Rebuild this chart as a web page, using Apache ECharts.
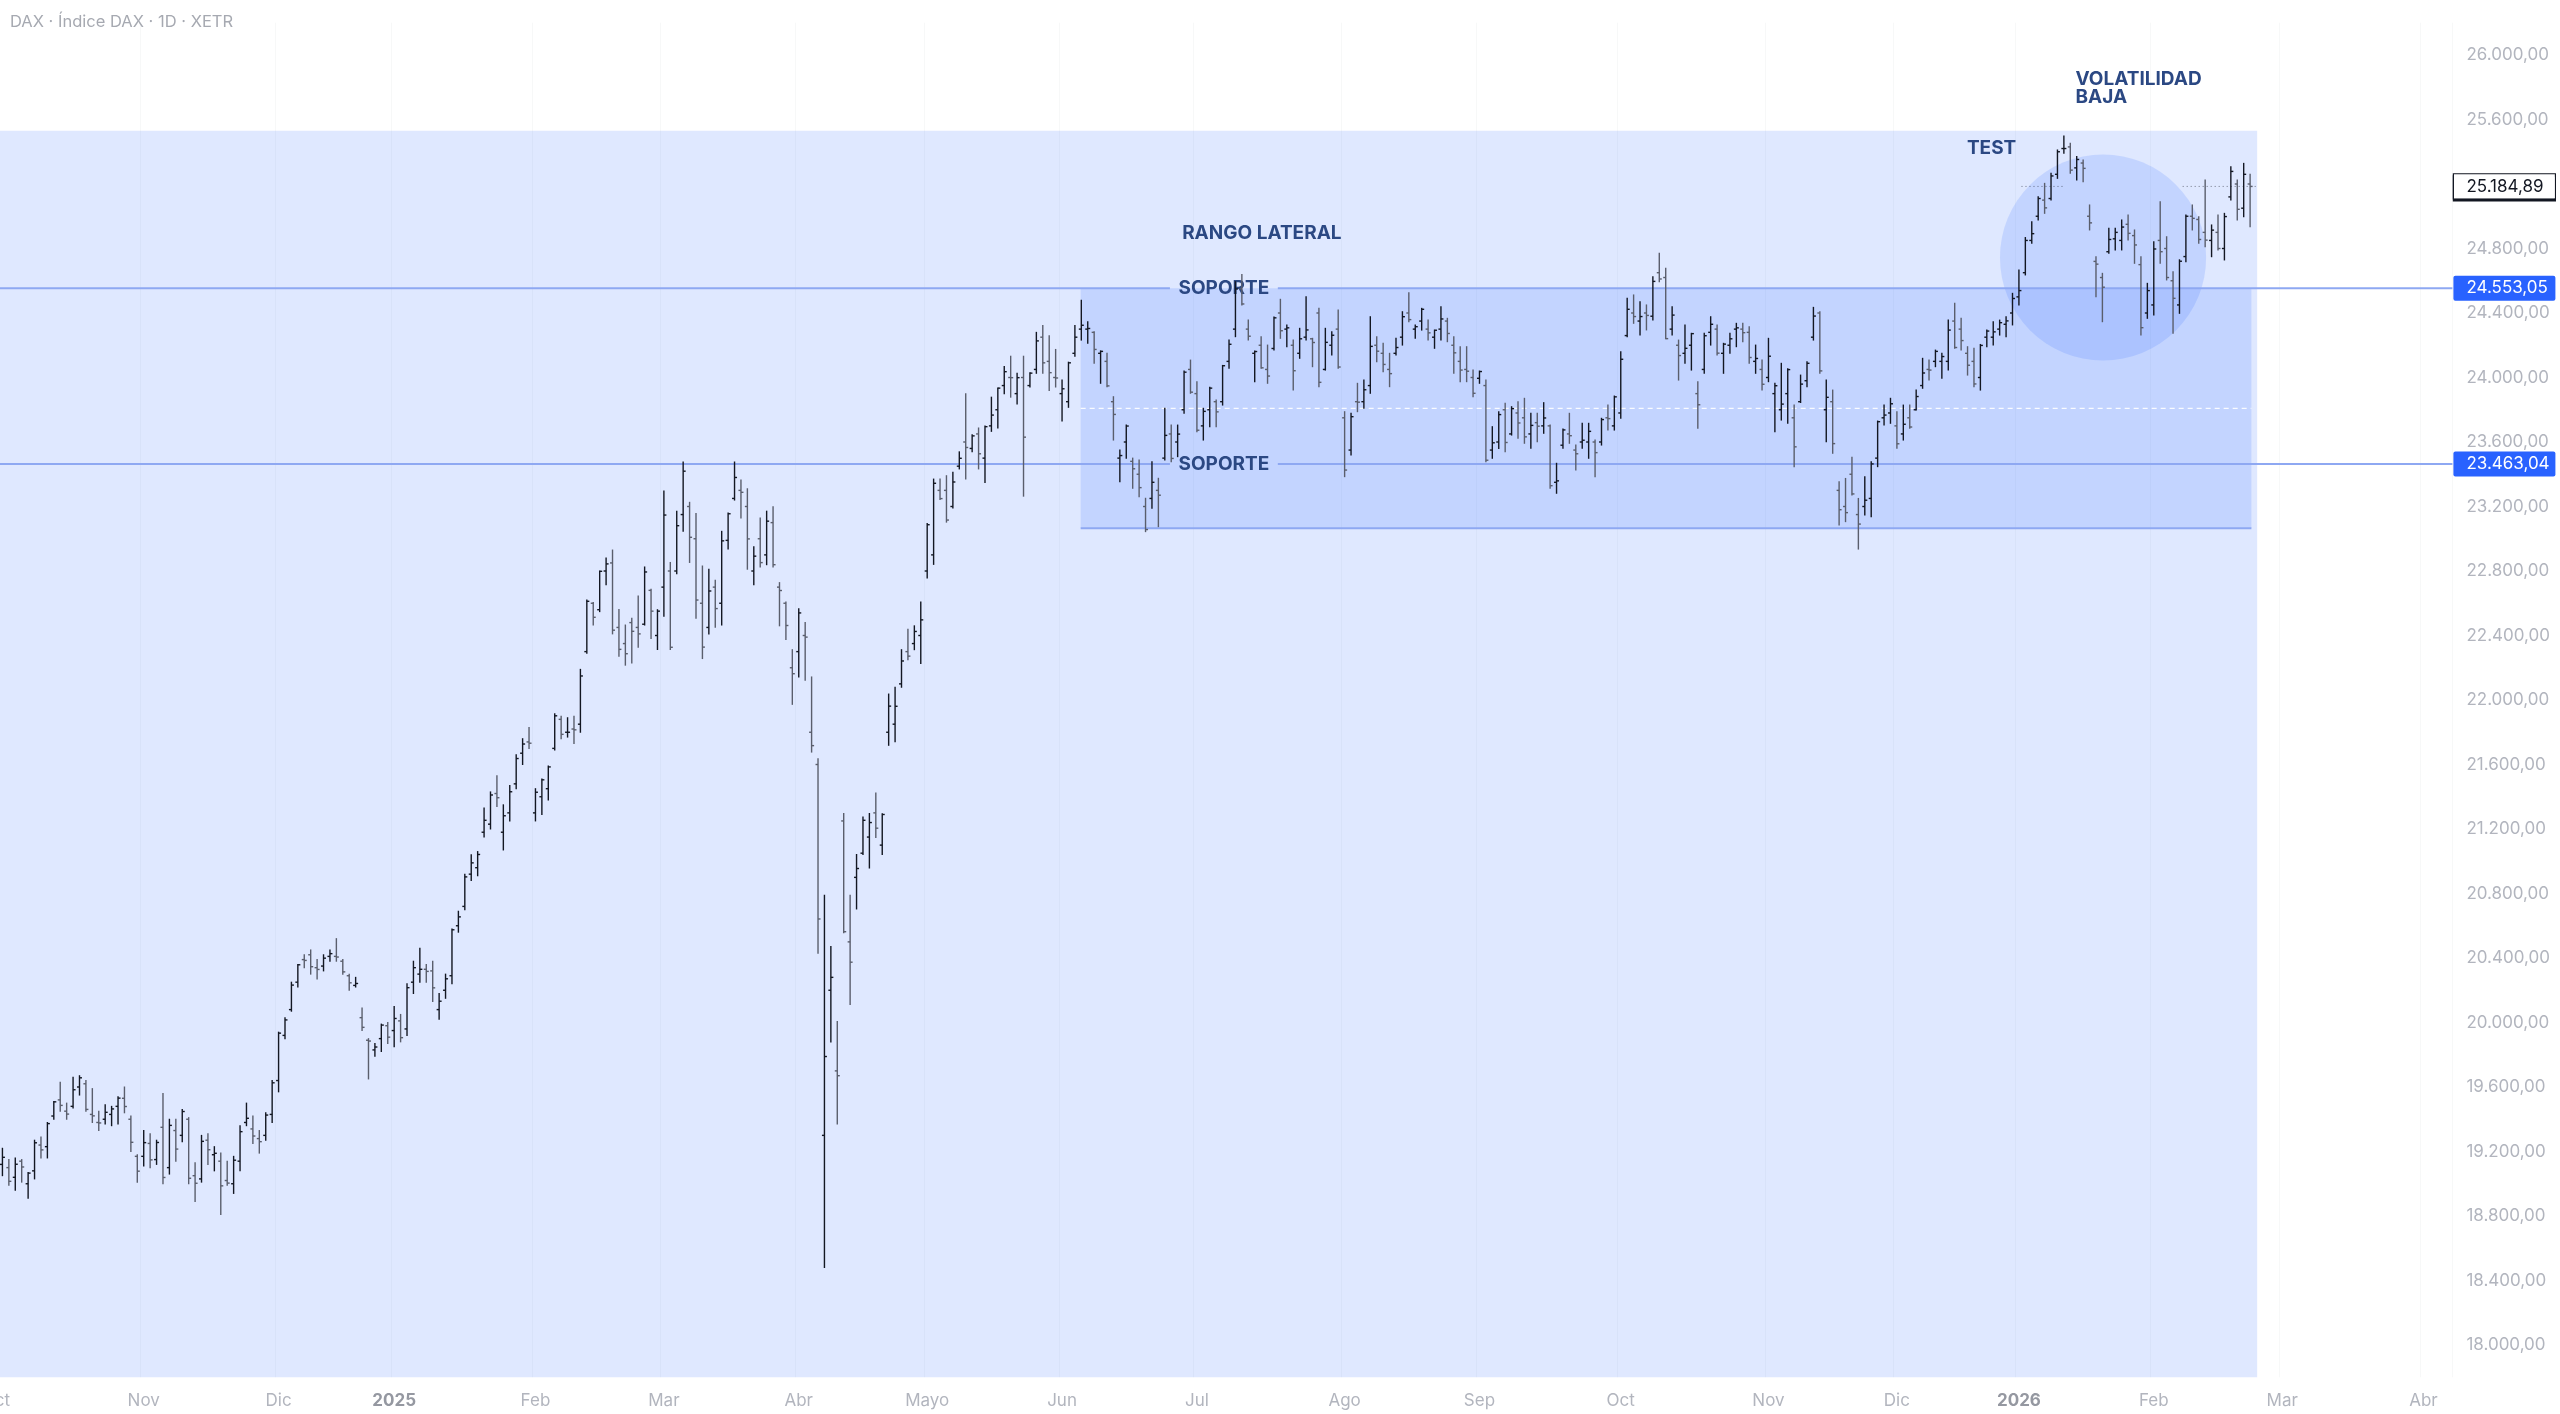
<!DOCTYPE html>
<html>
<head>
<meta charset="utf-8">
<script src="https://cdn.jsdelivr.net/npm/echarts@6/dist/echarts.min.js"></script>
<style>
  html, body { margin: 0; padding: 0; background: #fff; }
  #chart { width: 2560px; height: 1414px; }
</style>
</head>
<body>
<div id="chart"></div>
<script>
var FONT = 'Inter, Roboto, "Noto Sans", sans-serif';

// time scale: label of each month and its number of trading days
var monthLabels = ['Oct', 'Nov', 'Dic', '2025', 'Feb', 'Mar', 'Abr', 'Mayo', 'Jun', 'Jul', 'Ago', 'Sep', 'Oct', 'Nov', 'Dic', '2026', 'Feb', 'Mar', 'Abr'];
var monthDays = [23, 21, 18, 22, 20, 21, 20, 21, 21, 23, 21, 22, 23, 20, 19, 21, 20, 22, 5];

// daily bars [open, high, low, close]
var oct24 = [
  [19330,19360,19165,19213],[19120,19220,19050,19164],[19100,19150,18990,19015],[19040,19160,18960,19121],
  [19140,19150,19010,19104],[19000,19070,18910,19066],[19080,19270,19030,19254],[19240,19290,19160,19210],
  [19230,19380,19160,19373],[19420,19510,19400,19508],[19520,19630,19450,19486],[19450,19500,19400,19432],
  [19480,19660,19470,19583],[19600,19670,19550,19657],[19620,19640,19450,19461],[19430,19590,19380,19421],
  [19380,19450,19330,19377],[19400,19490,19370,19443],[19430,19480,19360,19464],[19480,19540,19370,19531],
  [19530,19600,19440,19479],[19400,19420,19200,19257],[19170,19180,19010,19078]
];
var nov24 = [
  [19170,19330,19110,19255],[19250,19310,19100,19148],[19150,19270,19120,19256],[19350,19560,19000,19039],
  [19100,19400,19060,19362],[19330,19400,19140,19215],[19300,19460,19260,19448],[19400,19410,19000,19034],
  [19050,19130,18890,19003],[19030,19300,19010,19263],[19270,19310,19120,19211],[19180,19230,19080,19189],
  [19140,19190,18810,18987],[19020,19140,18990,19004],[19000,19170,18940,19146],[19140,19360,19080,19323],
  [19380,19500,19360,19406],[19340,19420,19250,19296],[19280,19330,19190,19261],[19300,19440,19270,19426],
  [19430,19640,19380,19626]
];
var dec24 = [
  [19640,19940,19570,19934],[19920,20030,19900,20016],[20080,20250,20070,20232],[20250,20360,20220,20358],
  [20390,20420,20340,20385],[20420,20450,20300,20346],[20340,20390,20270,20329],[20350,20420,20320,20399],
  [20410,20450,20380,20427],[20410,20520,20380,20406],[20380,20390,20300,20314],[20290,20300,20200,20246],
  [20230,20280,20220,20242],[20030,20090,19950,19970],[19890,19900,19650,19885],[19830,19870,19790,19848],
  [19900,19990,19820,19984],[19980,20000,19870,19909]
];
var jan25 = [
  [19950,20100,19850,20025],[20010,20050,19880,19906],[19960,20240,19920,20216],[20250,20380,20180,20340],
  [20300,20460,20250,20330],[20330,20360,20250,20317],[20320,20380,20130,20215],[20080,20180,20020,20132],
  [20200,20300,20150,20271],[20290,20580,20240,20575],[20600,20690,20560,20655],[20720,20920,20700,20903],
  [20920,21040,20880,20990],[20960,21060,20910,21042],[21180,21330,21150,21254],[21230,21430,21200,21411],
  [21420,21530,21340,21394],[21180,21350,21070,21282],[21300,21470,21250,21431],[21480,21660,21450,21637],
  [21670,21760,21600,21727],[21740,21830,21700,21732]
];
var feb25 = [
  [21300,21450,21250,21428],[21400,21510,21290,21505],[21450,21590,21380,21585],[21700,21915,21690,21902],
  [21880,21900,21760,21787],[21800,21890,21770,21800],[21820,21900,21730,21815],[21850,22190,21800,22149],
  [22300,22620,22290,22612],[22600,22605,22465,22513],[22560,22800,22548,22798],[22800,22880,22714,22844],
  [22850,22930,22410,22433],[22450,22562,22271,22314],[22350,22465,22216,22287],[22480,22507,22230,22426],
  [22450,22645,22327,22410],[22470,22825,22465,22794],[22680,22687,22382,22551],[22400,22560,22313,22551]
];
var mar25 = [
  [22700,23296,22520,23147],[22800,22853,22313,22327],[22800,23171,22783,23081],[23150,23476,23046,23419],
  [23200,23226,22853,23009],[23000,23157,22507,22620],[22600,22831,22257,22328],[22450,22811,22410,22676],
  [22700,22742,22451,22567],[22600,23046,22465,22987],[22990,23160,22936,23155],[23250,23476,23240,23380],
  [23300,23365,23129,23288],[23200,23310,22811,22999],[22800,22950,22714,22892],[23000,23129,22825,22852],
  [22900,23171,22839,23109],[23100,23198,22825,22839],[22700,22728,22460,22679],[22600,22608,22375,22462],
  [22200,22312,21973,22163]
];
var apr25 = [
  [22300,22566,22143,22540],[22400,22481,22122,22390],[21800,22143,21677,21717],[21600,21635,20429,20642],
  [19300,20789,18480,19789],[20200,20471,19879,20280],[19700,20006,19371,19670],[21250,21296,20556,20563],
  [20500,20789,20111,20374],[20900,21042,20704,20955],[21050,21275,21042,21254],[21150,21296,20958,21240],
  [21300,21423,21148,21205],[21100,21294,21042,21290],[21800,22037,21719,21962],[21850,22079,21741,21961],
  [22100,22312,22079,22242],[22300,22439,22249,22272],[22350,22460,22312,22425],[22400,22608,22227,22497]
];
var may25 = [
  [22800,23095,22756,23087],[22900,23370,22841,23344],[23300,23370,23243,23249],[23300,23391,23103,23116],
  [23200,23412,23190,23352],[23450,23539,23433,23499],[23600,23899,23370,23566],[23560,23645,23539,23638],
  [23650,23687,23433,23527],[23500,23700,23349,23695],[23700,23878,23666,23767],[23800,23935,23687,23934],
  [23950,24068,23899,24036],[24000,24132,23878,23999],[23900,24026,23836,23999],[24000,24132,23264,23630],
  [23950,24030,23941,24027],[24050,24280,24026,24227],[24250,24322,24026,24091],[24100,24259,23920,24030],
  [24000,24174,23941,23997]
];
var jun25 = [
  [23900,23984,23730,23930],[23850,24095,23815,24091],[24150,24322,24132,24250],[24300,24479,24232,24324],
  [24300,24346,24212,24304],[24280,24284,24088,24174],[24150,24165,23964,24162],[24100,24150,23943,23948],
  [23850,23881,23612,23771],[23500,23550,23354,23516],[23600,23705,23499,23699],[23480,23500,23313,23434],
  [23400,23488,23261,23317],[23200,23251,23044,23057],[23250,23478,23189,23350],[23300,23375,23075,23270],
  [23500,23809,23488,23641],[23650,23705,23478,23498],[23600,23705,23509,23649],[23800,24040,23778,24033],
  [24050,24108,23902,23909]
];
var jul25 = [
  [23900,23974,23664,23673],[23700,23809,23612,23790],[23800,23940,23695,23934],[23850,23860,23695,23787],
  [23850,24075,23829,24073],[24100,24232,24057,24206],[24300,24594,24253,24549],[24550,24639,24450,24456],
  [24300,24356,24232,24256],[24150,24165,23974,24161],[24200,24253,24057,24060],[24050,24201,23964,24009],
  [24180,24375,24170,24370],[24400,24485,24243,24290],[24300,24325,24191,24308],[24200,24232,23922,24042],
  [24150,24305,24119,24240],[24250,24501,24232,24295],[24240,24243,24067,24217],[24400,24429,23943,23970],
  [24050,24305,24046,24218],[24200,24284,24139,24262],[24300,24418,24057,24065]
];
var aug25 = [
  [23750,23788,23385,23426],[23550,23778,23519,23757],[23850,23964,23788,23847],[23850,23985,23809,23924],
  [23950,24377,23902,24193],[24200,24253,24098,24163],[24150,24212,24036,24081],[24050,24150,23943,24024],
  [24150,24243,24139,24186],[24250,24408,24201,24377],[24400,24526,24346,24359],[24300,24325,24243,24315],
  [24350,24429,24294,24423],[24300,24356,24232,24277],[24250,24294,24181,24293],[24300,24439,24232,24363],
  [24350,24367,24222,24273],[24200,24253,24026,24153],[24100,24191,23974,24046],[24050,24191,23974,24039],
  [24000,24046,23881,23902]
];
var sep25 = [
  [23995,24040,23964,24037],[23950,23985,23478,23487],[23550,23695,23499,23595],[23600,23788,23560,23770],
  [23800,23840,23540,23597],[23650,23819,23643,23807],[23780,23850,23623,23718],[23750,23871,23592,23632],
  [23650,23778,23561,23703],[23720,23778,23602,23698],[23700,23844,23654,23749],[23700,23705,23313,23329],
  [23350,23468,23282,23359],[23580,23680,23561,23675],[23650,23778,23592,23639],[23550,23581,23426,23527],
  [23600,23716,23561,23611],[23600,23716,23499,23666],[23600,23612,23385,23534],[23600,23747,23581,23739],
  [23750,23829,23674,23745],[23700,23885,23674,23880]
];
var oct25 = [
  [23780,24160,23747,24113],[24260,24491,24253,24423],[24400,24512,24336,24378],[24350,24470,24264,24378],
  [24400,24450,24295,24385],[24380,24625,24356,24596],[24650,24771,24594,24611],[24620,24677,24240,24241],
  [24300,24439,24264,24387],[24200,24232,23984,24136],[24150,24325,24088,24181],[24200,24274,24046,24272],
  [23900,23974,23685,23831],[24050,24274,24026,24259],[24280,24377,24201,24330],[24300,24325,24139,24151],
  [24150,24212,24026,24207],[24200,24274,24150,24240],[24300,24336,24191,24308],[24300,24336,24222,24278],
  [24280,24315,24088,24124],[24100,24201,24026,24118],[24050,24108,23922,23958]
];
var nov25 = [
  [24000,24243,23974,24132],[23900,23964,23664,23949],[23800,24088,23736,23835],[23900,24055,23716,24049],
  [23750,23829,23447,23570],[23850,24015,23845,23959],[23980,24098,23943,24088],[24250,24435,24232,24381],
  [24400,24408,24026,24041],[23800,23985,23602,23877],[23850,23922,23530,23590],[23300,23354,23085,23180],
  [23200,23374,23106,23162],[23400,23505,23271,23278],[23150,23250,22936,23091],[23200,23385,23147,23239],
  [23250,23478,23137,23464],[23500,23730,23447,23726],[23750,23829,23705,23767],[23780,23871,23716,23837]
];
var dec25 = [
  [23700,23788,23561,23589],[23650,23829,23612,23710],[23750,23829,23685,23693],[23800,23922,23798,23882],
  [23950,24119,23933,24028],[24050,24108,23984,24046],[24100,24170,24067,24162],[24100,24150,23995,24130],
  [24100,24356,24046,24294],[24350,24460,24181,24186],[24300,24367,24170,24229],[24150,24191,24015,24076],
  [24100,24181,23943,23960],[24000,24205,23922,24199],[24250,24294,24191,24288],[24250,24346,24201,24283],
  [24300,24356,24263,24340],[24330,24377,24253,24351],[24400,24522,24326,24490]
];
var jan26 = [
  [24500,24667,24450,24539],[24650,24868,24636,24850],[24850,24966,24832,24892],[25000,25121,24977,25110],
  [25100,25204,25018,25052],[25110,25266,25101,25250],[25260,25411,25235,25400],[25420,25498,25390,25420],
  [25430,25452,25266,25286],[25300,25370,25225,25352],[25330,25349,25214,25297],[25000,25070,24915,24959],
  [24720,24749,24501,24703],[24620,24646,24346,24560],[24780,24925,24770,24856],[24860,24925,24791,24900],
  [24850,24977,24791,24933],[24950,25008,24853,24894],[24880,24915,24708,24822],[24700,24749,24264,24309],
  [24400,24584,24367,24539]
];
var feb26 = [
  [24450,24842,24388,24797],[24850,25090,24708,24780],[24800,24873,24605,24620],[24600,24656,24274,24491],
  [24450,24730,24398,24721],[24750,25008,24718,25000],[25000,25070,24915,24987],[24980,24997,24832,24856],
  [24900,25225,24811,24852],[24850,24946,24749,24914],[24900,25008,24791,24800],[24800,25018,24729,24998],
  [25120,25307,25101,25278],[25200,25225,24977,25043],[25050,25328,24997,25260],[25200,25260,24935,25184.89]
];

// drawn levels and annotations, in bar index / price units
var levels = [24553.05, 23463.04];
var levelGap = [182.8, 199.6];
var rangeTop = 25530, rangeEnd = 352.1;
var box = { from: 168.9, to: 351.2, top: 24553.05, bottom: 23065 };
var circle = { idx: 328.1, price: 24744, rIdx: 16.05 };
var notes = [
  { text: 'RANGO LATERAL', idx: 184.7, price: 24896 },
  { text: 'TEST', idx: 306.9, price: 25423 },
  { text: 'VOLATILIDAD\nBAJA', idx: 323.8, price: 25795 }
];
var lastDots = [[315.4, 321.9], [340.5, 351.9]];

var months = [oct24, nov24, dec24, jan25, feb25, mar25, apr25, may25, jun25, jul25, aug25, sep25,
              oct25, nov25, dec25, jan26, feb26];
var bars = [];
months.forEach(function (m) { m.forEach(function (b) { bars.push([bars.length].concat(b)); }); });
var lastClose = bars[bars.length - 1][4];

var categories = [];
monthLabels.forEach(function (lab, k) {
  for (var d = 0; d < monthDays[k]; d++) categories.push(lab + '|' + k + '|' + d);
});

function fmt(v) {
  var s = Number(v).toFixed(2).split('.');
  return s[0].replace(/\B(?=(\d{3})+(?!\d))/g, '.') + ',' + s[1];
}
function isMonthStart(i, v) { return v.split('|')[2] === '0'; }

var option = {
  animation: false,
  backgroundColor: '#ffffff',
  title: {
    text: 'DAX · Índice DAX · 1D · XETR',
    left: 5, top: 9,
    textStyle: { fontFamily: FONT, fontSize: 16.5, fontWeight: 'normal', color: '#a6a9b1' }
  },
  grid: { left: -7.2, top: 22.75, width: 2459.6, height: 1354.5, containLabel: false, outerBoundsMode: 'none' },
  xAxis: {
    type: 'category',
    data: categories,
    boundaryGap: true,
    axisLine: { show: false },
    axisTick: { show: false },
    axisLabel: {
      interval: isMonthStart,
      margin: 15,
      fontFamily: FONT,
      fontSize: 17,
      color: '#b2b5be',
      hideOverlap: false,
      formatter: function (v) {
        var l = v.split('|')[0];
        return /^\d{4}$/.test(l) ? '{y|' + l + '}' : l;
      },
      rich: { y: { fontFamily: FONT, fontSize: 17, fontWeight: 'bold', color: '#9598a1' } }
    },
    splitLine: { show: true, interval: isMonthStart, lineStyle: { color: 'rgba(42,46,57,0.035)', width: 1 } }
  },
  yAxis: {
    type: 'value',
    position: 'right',
    min: 17800, max: 26200, interval: 200,
    axisLine: { show: false },
    axisTick: { show: false },
    splitLine: { show: false },
    axisLabel: {
      margin: 14,
      fontFamily: FONT,
      fontSize: 17,
      color: '#b2b5be',
      formatter: function (v) { return v % 400 === 0 ? fmt(v) : ''; }
    }
  },
  series: [{
    type: 'custom',
    z: 3,
    data: bars,
    encode: { x: 0, y: [1, 2, 3, 4] },
    renderItem: function (params, api) {
      var i = api.value(0);
      var x = api.coord([i, 0])[0];
      var oy = api.coord([i, api.value(1)])[1];
      var hy = api.coord([i, api.value(2)])[1];
      var ly = api.coord([i, api.value(3)])[1];
      var cy = api.coord([i, api.value(4)])[1];
      var col = api.value(4) >= api.value(1) ? '#131722' : '#5a5e6c';
      var st = { stroke: col, lineWidth: 1.4 };
      var t = 2.5;
      return {
        type: 'group',
        children: [
          { type: 'line', shape: { x1: x, y1: hy - 0.5, x2: x, y2: ly + 0.5 }, style: st },
          { type: 'line', shape: { x1: x - t, y1: oy, x2: x, y2: oy }, style: st },
          { type: 'line', shape: { x1: x, y1: cy, x2: x + t, y2: cy }, style: st }
        ]
      };
    }
  }]
};

var chart = echarts.init(document.getElementById('chart'));
chart.setOption(option);

function px(idx) {
  var a = chart.convertToPixel({ xAxisIndex: 0 }, 0);
  var b = chart.convertToPixel({ xAxisIndex: 0 }, 1);
  return a + (b - a) * idx;
}
function py(p) { return chart.convertToPixel({ yAxisIndex: 0 }, p); }

var fillBlue = 'rgba(41,98,255,0.15)';
var lineBlue = '#8ea8f2';
var noteColor = '#2b4883';
var rightEdge = px(categories.length - 0.5);
var bottomEdge = py(17800);
var els = [];

// big shaded area
els.push({ type: 'rect', z: 0, silent: true,
  shape: { x: 0, y: py(rangeTop), width: px(rangeEnd), height: bottomEdge - py(rangeTop) },
  style: { fill: fillBlue } });
// lateral range box
els.push({ type: 'rect', z: 0, silent: true,
  shape: { x: px(box.from), y: py(box.top), width: px(box.to) - px(box.from), height: py(box.bottom) - py(box.top) },
  style: { fill: fillBlue } });
// low volatility circle
var ccx = px(circle.idx), ccy = py(circle.price);
els.push({ type: 'circle', z: 0, silent: true,
  shape: { cx: ccx, cy: ccy, r: px(circle.idx + circle.rIdx) - ccx },
  style: { fill: fillBlue } });
// box bottom edge and dashed middle line
els.push({ type: 'line', z: 1, silent: true,
  shape: { x1: px(box.from), y1: py(box.bottom), x2: px(box.to), y2: py(box.bottom) },
  style: { stroke: lineBlue, lineWidth: 2 } });
var mid = (box.top + box.bottom) / 2;
els.push({ type: 'line', z: 1, silent: true,
  shape: { x1: px(box.from), y1: py(mid), x2: px(box.to), y2: py(mid) },
  style: { stroke: 'rgba(255,255,255,0.9)', lineWidth: 1.2, lineDash: [5, 4] } });

// horizontal levels with SOPORTE labels and price tags
levels.forEach(function (lv) {
  var y = py(lv);
  els.push({ type: 'line', z: 1, silent: true,
    shape: { x1: 0, y1: y, x2: px(levelGap[0]), y2: y }, style: { stroke: lineBlue, lineWidth: 2 } });
  els.push({ type: 'line', z: 1, silent: true,
    shape: { x1: px(levelGap[1]), y1: y, x2: rightEdge, y2: y }, style: { stroke: lineBlue, lineWidth: 2 } });
  els.push({ type: 'text', z: 2, silent: true,
    x: px((levelGap[0] + levelGap[1]) / 2), y: y,
    style: { text: 'SOPORTE', fill: noteColor, font: 'bold 19px ' + FONT, textAlign: 'center', textVerticalAlign: 'middle' } });
  els.push({ type: 'rect', z: 20, silent: true,
    shape: { x: rightEdge + 1, y: y - 12.5, width: 102, height: 25, r: 2 }, style: { fill: '#2962ff' } });
  els.push({ type: 'text', z: 21, silent: true,
    x: rightEdge + 14, y: y,
    style: { text: fmt(lv), fill: '#ffffff', font: '17px ' + FONT, textAlign: 'left', textVerticalAlign: 'middle' } });
});

// notes
notes.forEach(function (n) {
  els.push({ type: 'text', z: 2, silent: true,
    x: px(n.idx), y: py(n.price),
    style: { text: n.text, fill: noteColor, font: 'bold 19px ' + FONT, lineHeight: 18,
             textAlign: 'left', textVerticalAlign: 'middle' } });
});

// last price dotted segments and tag
var ly = py(lastClose);
lastDots.forEach(function (s) {
  els.push({ type: 'line', z: 2, silent: true,
    shape: { x1: px(s[0]), y1: ly, x2: px(s[1]), y2: ly },
    style: { stroke: 'rgba(19,23,34,0.55)', lineWidth: 1, lineDash: [1, 3] } });
});
els.push({ type: 'rect', z: 20, silent: true,
  shape: { x: rightEdge + 1, y: ly - 12.5, width: 102, height: 25 },
  style: { fill: '#ffffff', stroke: '#131722', lineWidth: 1.2, shadowColor: '#131722', shadowOffsetY: 2, shadowBlur: 0 } });
els.push({ type: 'rect', z: 21, silent: true,
  shape: { x: rightEdge + 1.6, y: ly - 11.9, width: 100.8, height: 23.8 },
  style: { fill: '#ffffff' } });
els.push({ type: 'text', z: 22, silent: true,
  x: rightEdge + 14, y: ly,
  style: { text: fmt(lastClose), fill: '#131722', font: '17px ' + FONT, textAlign: 'left', textVerticalAlign: 'middle' } });

chart.setOption({ graphic: { elements: els } });
</script>
</body>
</html>
